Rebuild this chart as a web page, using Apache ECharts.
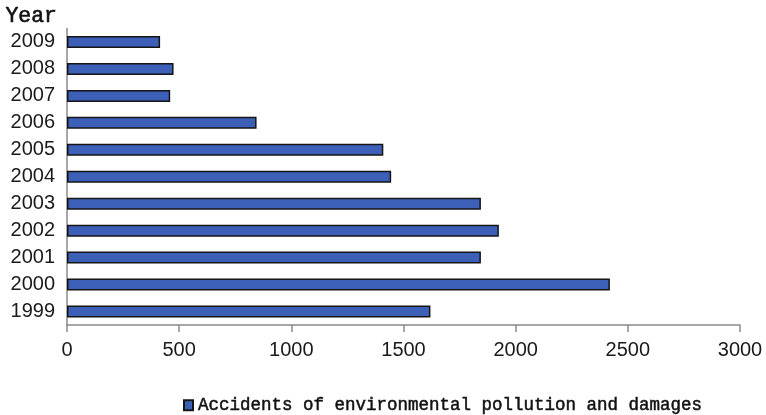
<!DOCTYPE html>
<html>
<head>
<meta charset="utf-8">
<script src="https://cdn.jsdelivr.net/npm/echarts@6/dist/echarts.min.js"></script>
<style>html,body{margin:0;padding:0;background:#fff;}#c{width:766px;height:415px;}</style>
</head>
<body>
<div id="c"></div>
<script>
const categories = ['1999','2000','2001','2002','2003','2004','2005','2006','2007','2008','2009'];
const accidents = [1620, 2420, 1845, 1925, 1845, 1445, 1410, 845, 460, 475, 415];
const xTicks = [0, 500, 1000, 1500, 2000, 2500, 3000];
const seriesName = 'Accidents of environmental pollution and damages';

const chart = echarts.init(document.getElementById('c'));
chart.setOption({
  animation: false,
  backgroundColor: '#fff',
  grid: { left: 67, right: 26, top: 28.5, bottom: 90, containLabel: false },
  xAxis: {
    type: 'value',
    min: xTicks[0],
    max: xTicks[xTicks.length - 1],
    interval: xTicks[1] - xTicks[0],
    axisLine: { show: true, lineStyle: { color: '#8a8a8a', width: 1.5 } },
    axisTick: { show: true, length: 7, lineStyle: { color: '#8a8a8a', width: 1.5 } },
    splitLine: { show: false },
    axisLabel: { color: '#1a1a1a', fontSize: 20, fontFamily: 'Liberation Sans, Arial, sans-serif', margin: 15, formatter: function (v) { return String(v); } }
  },
  yAxis: {
    type: 'category',
    data: categories,
    name: 'Year',
    nameLocation: 'end',
    nameGap: 12,
    nameTextStyle: { color: '#111', fontSize: 21.5, fontFamily: 'Liberation Mono, Courier New, monospace', align: 'right', verticalAlign: 'middle', padding: [0, 10, 0, 0], textBorderColor: '#111', textBorderWidth: 0.6 },
    axisLine: { show: true, lineStyle: { color: '#8a8a8a', width: 1.5 } },
    axisTick: { show: false },
    axisLabel: { color: '#1a1a1a', fontSize: 20, fontFamily: 'Liberation Sans, Arial, sans-serif', margin: 12 }
  },
  legend: {
    left: 178,
    top: 391,
    icon: 'rect',
    itemWidth: 9,
    itemHeight: 10,
    textStyle: { color: '#111', fontSize: 17.5, fontFamily: 'Liberation Mono, Courier New, monospace', textBorderColor: '#111', textBorderWidth: 0.5 },
    data: [seriesName]
  },
  series: [{
    name: seriesName,
    type: 'bar',
    data: accidents,
    barWidth: 12,
    itemStyle: { color: '#3c5fb8', borderColor: '#151515', borderWidth: 1.5 }
  }]
});
</script>
</body>
</html>
